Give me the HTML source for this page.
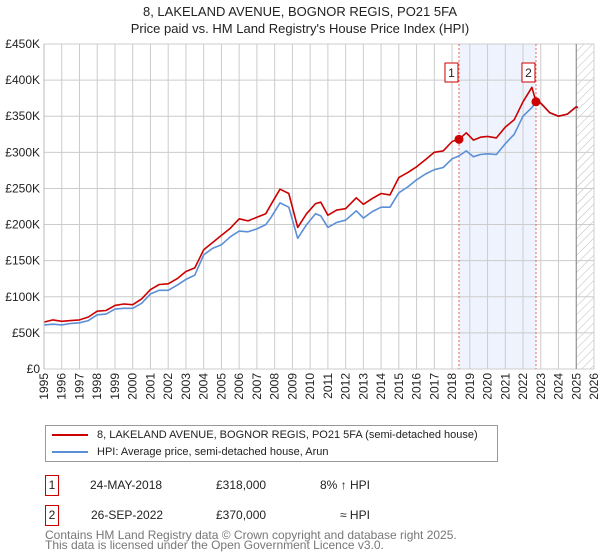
<!DOCTYPE html>
<html><head><meta charset="utf-8"><style>
body{margin:0;background:#fff;font-family:"Liberation Sans","DejaVu Sans",sans-serif;}
#wrap{position:relative;width:600px;height:560px;overflow:hidden;}
.t{position:absolute;left:0;width:600px;text-align:center;font-size:13px;color:#222;}
.legend{position:absolute;left:45px;top:425px;width:451px;height:35px;border:1px solid #999;font-size:11px;color:#222;}
.lr{position:absolute;left:6px;height:16px;line-height:16px;}
.lr span{display:inline-block;width:36px;height:2px;vertical-align:middle;margin-right:9px;}
.row{position:absolute;left:45px;font-size:12px;color:#222;height:20px;}
.box{position:absolute;left:0;top:0;width:12px;height:19px;border:1px solid #c00;text-align:center;line-height:19px;}
.foot{position:absolute;left:45px;top:530px;font-size:12px;color:#777;line-height:10px;}
</style></head><body>
<div id="wrap">
<div class="t" style="top:4px">8, LAKELAND AVENUE, BOGNOR REGIS, PO21 5FA</div>
<div class="t" style="top:21px">Price paid vs. HM Land Registry's House Price Index (HPI)</div>
<svg id="chart" width="600" height="420" style="position:absolute;left:0;top:0">
<defs><pattern id="hatch" width="6" height="6" patternUnits="userSpaceOnUse" patternTransform="rotate(45)"><line x1="0" y1="0" x2="0" y2="6" stroke="#bbb" stroke-width="1"/></pattern></defs>
</svg>
<div class="legend">
<div class="lr" style="top:1px"><span style="background:#c00"></span>8, LAKELAND AVENUE, BOGNOR REGIS, PO21 5FA (semi-detached house)</div>
<div class="lr" style="top:18px"><span style="background:#5b8fd6"></span>HPI: Average price, semi-detached house, Arun</div>
</div>
<div class="row" style="top:475px;width:400px"><div class="box">1</div><span style="position:absolute;left:45px;top:3px">24-MAY-2018</span><span style="position:absolute;left:171px;top:3px">£318,000</span><span style="position:absolute;left:275px;top:3px">8% ↑ HPI</span></div>
<div class="row" style="top:505px;width:400px"><div class="box">2</div><span style="position:absolute;left:46px;top:3px">26-SEP-2022</span><span style="position:absolute;left:171px;top:3px">£370,000</span><span style="position:absolute;left:295px;top:3px">≈ HPI</span></div>
<div class="foot">Contains HM Land Registry data © Crown copyright and database right 2025.<br>This data is licensed under the Open Government Licence v3.0.</div>
</div>
<script>
const years=[1995,1995.5,1996,1996.5,1997,1997.5,1998,1998.5,1999,1999.5,2000,2000.5,2001,2001.5,2002,2002.5,2003,2003.5,2004,2004.5,2005,2005.5,2006,2006.5,2007,2007.5,2007.8,2008.3,2008.8,2009.3,2009.8,2010.3,2010.6,2011,2011.5,2012,2012.6,2013,2013.5,2014,2014.5,2015,2015.5,2016,2016.5,2017,2017.5,2018,2018.39,2018.8,2019.2,2019.6,2020,2020.5,2021,2021.5,2022,2022.5,2022.73,2023,2023.5,2024,2024.5,2025,2025.1];
const priceSeries=[65,68,66,67,68,72,80,81,88,90,89,97,110,117,118,125,135,140,165,175,185,195,208,205,210,215,228,249,243,196,215,229,231,213,220,222,237,228,236,243,241,265,272,280,290,300,302,315,318,327,317,321,322,320,335,345,370,390,370,368,355,350,353,363,362];
const hpiSeries=[61,62,61,63,64,67,75,76,83,84,84,91,104,109,109,116,124,130,158,167,172,183,191,190,194,200,210,230,224,181,200,215,212,196,203,206,219,209,218,224,224,244,252,262,270,276,279,291,295,302,294,297,298,297,312,325,350,362,370,368,355,350,353,363,362];
const yTicks=[0,50,100,150,200,250,300,350,400,450];
const yTickLabels=["£0","£50K","£100K","£150K","£200K","£250K","£300K","£350K","£400K","£450K"];
const xTicks=[1995,1996,1997,1998,1999,2000,2001,2002,2003,2004,2005,2006,2007,2008,2009,2010,2011,2012,2013,2014,2015,2016,2017,2018,2019,2020,2021,2022,2023,2024,2025,2026];
const saleYears=[2018.39,2022.73];
const salePrices=[318,370];
const saleLabels=["1","2"];
const L=44,R=594,T=44,B=369;
const x=y=>L+(y-1995)/(2026-1995)*(R-L);
const yv=v=>B-v/450*(B-T);
const svg=document.getElementById('chart');
const NS='http://www.w3.org/2000/svg';
function mk(tag,attrs){const e=document.createElementNS(NS,tag);for(const k in attrs)e.setAttribute(k,attrs[k]);svg.appendChild(e);return e;}
let e=mk('rect',{x:x(saleYears[0]),y:T,width:x(saleYears[1])-x(saleYears[0]),height:B-T,fill:'#eef3fd'});


e=mk('rect',{x:x(2025),y:T,width:R-x(2025),height:B-T,fill:'url(#hatch)'});


xTicks.forEach((t,i)=>{
 const g=mk('line',{x1:x(t),x2:x(t),y1:T,y2:B,stroke:'#ccc','stroke-width':1});
 
 
 const tx=mk('text',{x:0,y:0,transform:`translate(${x(t)+4},${B+4}) rotate(-90)`,'text-anchor':'end','font-size':12,fill:'#222'});
 tx.textContent=t;
 
 
});
yTicks.forEach((t,i)=>{
 const g=mk('line',{x1:L,x2:R,y1:yv(t),y2:yv(t),stroke:'#ccc','stroke-width':1});
 
 
 const tx=mk('text',{x:L-4,y:yv(t)+4,'text-anchor':'end','font-size':12,fill:'#222'});
 tx.textContent=yTickLabels[i];
 
 
});
e=mk('line',{x1:x(2025),x2:x(2025),y1:T,y2:B,stroke:'#888','stroke-width':1});


saleYears.forEach((s,i)=>{
 const l=mk('line',{x1:x(s),x2:x(s),y1:T,y2:B,stroke:'#e66','stroke-width':1,'stroke-dasharray':'2,2'});
 
 
});
function path(vals,color,name){
 const d=years.map((yr,i)=>(i?'L':'M')+x(yr).toFixed(1)+','+yv(vals[i]).toFixed(1)).join('');
 const p=mk('path',{d:d,fill:'none',stroke:color,'stroke-width':1.6,'stroke-linejoin':'round'});
 
 
}
path(hpiSeries,'#5b8fd6','hpi-line');
path(priceSeries,'#c00','price-paid-line');
saleYears.forEach((s,i)=>{
 const c=mk('circle',{cx:x(s),cy:yv(salePrices[i]),r:4.5,fill:'#c00'});
 
 
 const bx=mk('rect',{x:x(s)-14,y:63,width:13,height:19,fill:'#fff',stroke:'#c00','stroke-width':1});
 
 
 const tx=mk('text',{x:x(s)-7.5,y:77,'text-anchor':'middle','font-size':12,fill:'#222'});
 tx.textContent=saleLabels[i];
 
 
});
e=mk('line',{x1:L,x2:L,y1:T,y2:B,stroke:'#bbb','stroke-width':1});


</script>
</body></html>
